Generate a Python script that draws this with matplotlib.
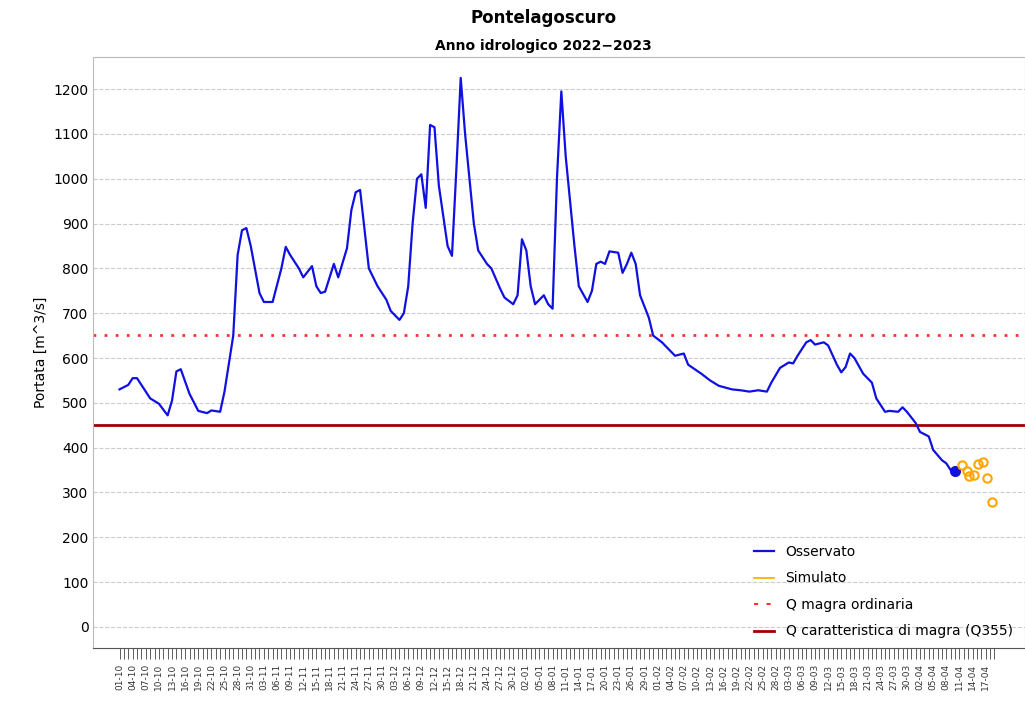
import numpy as np
import matplotlib.pyplot as plt
import datetime as dt

start = dt.date(2022, 10, 1)

# observed discharge: day offset from 01-10-2022, value m^3/s
obs_day = [0, 2, 3, 4, 5, 7, 9, 10, 11, 12, 13, 14, 16, 18, 20, 21, 23, 24, 26, 27, 28, 29, 30, 32, 33, 35,
           37, 38, 39, 41, 42, 44, 45, 46, 47, 49, 50, 52, 53, 54, 55, 57, 59, 61, 62, 64, 65, 66, 67, 68, 69,
           70, 71, 72, 73, 75, 76, 77, 78, 79, 81, 82, 84, 85, 87, 88, 90, 91, 92, 93, 94, 95, 97, 98, 99, 100,
           101, 102, 104, 105, 107, 108, 109, 110, 111, 112, 114, 115, 116, 117, 118, 119, 121, 122, 124, 125,
           127, 129, 130, 133, 135, 137, 140, 142, 144, 146, 148, 149, 151, 153, 154, 155, 157, 158, 159, 161,
           162, 164, 165, 166, 167, 168, 170, 172, 173, 175, 176, 178, 179, 180, 182, 183, 185, 186, 188, 189,
           190, 191]
obs_val = [530, 540, 555, 555, 540, 510, 498, 485, 472, 505, 570, 575, 520, 482, 477, 483, 480, 525, 650, 830,
           885, 890, 850, 745, 725, 725, 800, 848, 830,
           800, 780, 805, 760, 745, 748, 810, 780, 845, 930, 970, 975, 800, 760, 730, 705, 685, 700, 760, 900,
           1000, 1010, 935, 1120, 1115, 985, 850, 828, 1020, 1225, 1100, 900, 840, 810, 800, 755, 735, 720, 740,
           865, 840, 760, 720, 740, 720, 710, 1000, 1195, 1050, 850, 760, 725, 750, 810, 815, 810, 838, 835, 790,
           810, 835, 810, 740, 690, 650, 635, 625, 605, 610, 585, 565, 550, 538, 530, 528, 525, 528, 525, 545,
           578, 590, 588, 605, 635, 640, 630, 635, 628, 585, 568, 580, 610, 600, 565, 545, 510, 480, 482, 480,
           490, 480, 455, 435, 425, 395, 372, 365, 350, 348]

# simulated forecast
sim_day = [192.7, 193.8, 194.3, 195.4, 196.3, 197.4, 198.4, 199.5]
sim_val = [362, 348, 337, 339, 364, 368, 333, 279]

q_magra = 652
q355 = 451
n_days = 201

fig = plt.figure(figsize=(10.25, 7.02), dpi=100)
ax = fig.add_axes([0.091, 0.077, 0.909, 0.842])

ax.axhline(q_magra, color='#ff3030', ls=(0, (1, 3)), lw=2)
ax.axhline(q355, color='#a00000', lw=2)
ax.plot(obs_day, obs_val, color='#1010e0', lw=1.6)
ax.plot(obs_day[-1], obs_val[-1], 'o', color='#1010e0', ms=7)
ax.plot(sim_day, sim_val, 'o', mfc='none', mec='orange', mew=1.5, ms=6)

ax.set_xlim(-6, 207)
ax.set_ylim(-47, 1272)
ax.set_yticks(np.arange(0, 1201, 100))
ax.yaxis.grid(True, ls='--', color='#cccccc', lw=0.8)
ax.set_axisbelow(True)

days = np.arange(n_days)
ax.set_xticks(days, minor=True)
lab_days = days[::3]
ax.set_xticks(lab_days)
ax.set_xticklabels([(start + dt.timedelta(days=int(d))).strftime('%d-%m') for d in lab_days],
                   rotation=90, fontsize=6.5, color='#333333')
ax.tick_params(axis='x', which='both', length=8, width=0.6, color='#444444')
ax.tick_params(axis='y', labelsize=10, length=0)
for s in ax.spines.values():
    s.set_color('#bbbbbb')
ax.spines['bottom'].set_color('#555555')

ax.set_ylabel('Portata [m^3/s]', fontsize=10)
fig.text(0.53, 0.975, 'Pontelagoscuro', ha='center', va='center', fontsize=12, fontweight='bold')
fig.text(0.53, 0.935, 'Anno idrologico 2022\u22122023', ha='center', va='center', fontsize=10, fontweight='bold')

h = [plt.Line2D([], [], color='#1010e0', lw=1.6),
     plt.Line2D([], [], color='orange', lw=1.2),
     plt.Line2D([], [], color='#ff3030', ls=(0, (2, 4)), lw=1.5),
     plt.Line2D([], [], color='#a00000', lw=2)]
ax.legend(h, ['Osservato', 'Simulato', 'Q magra ordinaria', 'Q caratteristica di magra (Q355)'],
          loc='lower right', frameon=False, fontsize=10, handlelength=1.5,
          bbox_to_anchor=(1.0, -0.005), labelspacing=0.9)

fig.savefig('out.png', dpi=100)
